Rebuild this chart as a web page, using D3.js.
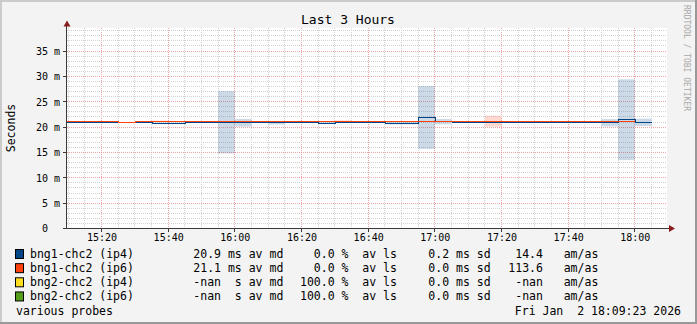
<!DOCTYPE html>
<html><head><meta charset="utf-8">
<script src="https://cdn.jsdelivr.net/npm/d3@7"></script>
<style>
html,body{margin:0;padding:0;background:#f3f3f3;}
svg{display:block;}
text{font-family:"DejaVu Sans Mono",monospace;white-space:pre;fill:#000;}
</style></head><body>
<svg id="c" width="697" height="324" xml:space="preserve"></svg>
<script>
// ---- data (ms), 5-minute buckets identified by their end time ----
const bucketEnds = ["15:10","15:15","15:20","15:25","15:30","15:35","15:40","15:45","15:50","15:55",
  "16:00","16:05","16:10","16:15","16:20","16:25","16:30","16:35","16:40","16:45",
  "16:50","16:55","17:00","17:05","17:10","17:15","17:20","17:25","17:30","17:35",
  "17:40","17:45","17:50","17:55","18:00","18:05"];
const ip4Median = [20.85,20.85,20.85,20.85,20.85,20.95,20.75,20.75,20.85,20.85,
  20.95,20.85,20.85,20.85,20.85,20.85,20.8,20.85,20.85,20.85,
  20.8,20.8,21.9,21.07,20.85,20.85,20.85,20.85,20.85,20.85,
  20.85,20.85,20.85,20.85,21.46,20.95];
const ip4Sd = [0,0,0,0,0,0,0.16,0.16,0,0,
  6.15,0.76,0,0.33,0,0,0.2,0,0,0,
  0.26,0.26,6.2,0.52,0,0,0,0,0,0,
  0,0,0,0.73,7.96,0.73];
const ip6Median = [21.1,21.1,21.1,21.1,20.9,21.1,21.2,21.1,21.1,21.1,
  21.1,21.1,21.1,21.1,21.1,21.1,21.1,21.2,21.1,21.1,
  21.1,21.1,21.1,21.1,21.1,21.1,21.16,21.1,21.1,21.1,
  21.1,21.1,21.1,21.1,21.1,null];
const ip6Sd = [0,0,0,0,0,0,0.1,0,0,0,
  0,0,0,0,0,0,0,0.14,0,0,
  0,0,0,0,0,0,1.08,0,0,0,
  0,0,0,0,0,0];
const yTicks = [0,5,10,15,20,25,30,35];
const xTickLabels = ["15:20","15:40","16:00","16:20","16:40","17:00","17:20","17:40","18:00"];
const legendNames = ["bng1-chc2 (ip4)","bng1-chc2 (ip6)","bng2-chc2 (ip4)","bng2-chc2 (ip6)"];
const legendColors = ["#004586","#ff420e","#ffde20","#579d1c"];
const legendMedian = ["20.9 ms","21.1 ms","-nan  s","-nan  s"];
const legendLoss = ["  0.0","  0.0","100.0","100.0"];
const legendSd = ["0.2","0.0","0.0","0.0"];
const legendAmas = [" 14.4","113.6"," -nan"," -nan"];
const titleText = "Last 3 Hours";
const yLabel = "Seconds";
const footLeft = "various probes";
const footRight = "Fri Jan  2 18:09:23 2026";
const watermark = "RRDTOOL / TOBI OETIKER";

// ---- setup ----
const W = 697, H = 324;
const svg = d3.select("#c");
const pT = d3.timeParse("%H:%M"), pTS = d3.timeParse("%H:%M:%S");
const x = d3.scaleTime().domain([pTS("15:09:30"), pTS("18:09:30")]).range([66.5, 666.5]);
const y = d3.scaleLinear().domain([0, 39.55]).range([228.5, 28]);
const px = v => Math.floor(v) + 0.5;

// background & frame
svg.append("rect").attr("width", W).attr("height", H).attr("fill", "#f3f3f3");
svg.append("path").attr("d", `M1,${H} L1,1 L${W},1`).attr("fill","none").attr("stroke","#cbcbcb").attr("stroke-width",2);
svg.append("path").attr("d", `M0,${H-1} L${W-1},${H-1} L${W-1},0`).attr("fill","none").attr("stroke","#999").attr("stroke-width",2);

// canvas
svg.append("rect").attr("x", 67).attr("y", 28).attr("width", 600).attr("height", 200).attr("fill", "#fff");

const grid = svg.append("g").attr("shape-rendering","crispEdges");
// minor vertical every 5 min
const minorT = d3.timeMinute.every(5).range(x.domain()[0], x.domain()[1]);
minorT.forEach(t => {
  const major = t.getMinutes() % 20 === 0;
  grid.append("line").attr("x1", px(x(t))).attr("x2", px(x(t))).attr("y1", 28).attr("y2", 228)
    .attr("stroke", major ? "#f2a3a3" : "#d2d2d2").attr("stroke-dasharray", "1,1");
});
// horizontal every 1 ms
d3.range(1, 40).forEach(v => {
  if (y(v) < 28) return;
  const major = v % 5 === 0;
  grid.append("line").attr("x1", 67).attr("x2", 667).attr("y1", px(y(v))).attr("y2", px(y(v)))
    .attr("stroke", major ? "#f2a3a3" : "#d2d2d2").attr("stroke-dasharray", "1,1");
});

// data
const plot = svg.append("g");
svg.append("clipPath").attr("id","clip").append("rect").attr("x",67).attr("y",28).attr("width",600).attr("height",201);
plot.attr("clip-path","url(#clip)");
const buckets = bucketEnds.map((e, i) => {
  const end = pT(e);
  return {start: d3.timeMinute.offset(end, -5), end, m4: ip4Median[i], s4: ip4Sd[i], m6: ip6Median[i], s6: ip6Sd[i]};
});
function smoke(key, sdKey, color) {
  plot.append("g").selectAll("rect").data(buckets.filter(b => b[key] != null && b[sdKey] > 0)).join("rect")
    .attr("x", b => x(b.start)).attr("width", b => x(b.end) - x(b.start))
    .attr("y", b => y(b[key] + b[sdKey])).attr("height", b => y(b[key] - b[sdKey]) - y(b[key] + b[sdKey]))
    .attr("fill", color).attr("fill-opacity", 0.2);
}
smoke("m4", "s4", "#004586");
smoke("m6", "s6", "#ff420e");
function medLine(key, color) {
  const pts = [];
  buckets.forEach(b => { pts.push({t: b.start, v: b[key]}); pts.push({t: b.end, v: b[key]}); });
  const line = d3.line().defined(d => d.v != null).x(d => Math.round(x(d.t)) ).y(d => px(y(d.v)));
  plot.append("path").attr("d", line(pts)).attr("fill","none").attr("stroke", color).attr("stroke-width", 1)
    .attr("shape-rendering","crispEdges");
}
medLine("m4", "#004586");
medLine("m6", "#ff420e");

// axes
const ax = svg.append("g").attr("shape-rendering","crispEdges");
ax.append("line").attr("x1", 66.5).attr("x2", 66.5).attr("y1", 229).attr("y2", 25).attr("stroke", "#3a3a3a");
ax.append("line").attr("x1", 63).attr("x2", 669).attr("y1", 228.5).attr("y2", 228.5).attr("stroke", "#3a3a3a");
yTicks.forEach(v => ax.append("line").attr("x1", 63).attr("x2", 66).attr("y1", px(y(v))).attr("y2", px(y(v))).attr("stroke","#3a3a3a"));
xTickLabels.forEach(s => ax.append("line").attr("x1", px(x(pT(s)))).attr("x2", px(x(pT(s)))).attr("y1", 229).attr("y2", 232).attr("stroke","#3a3a3a"));
svg.append("path").attr("d", "M67,20.5 L70.5,26.5 L63.5,26.5 Z").attr("fill", "#8a1c1c");
svg.append("path").attr("d", "M675,228.5 L669,225 L669,232 Z").attr("fill", "#8a1c1c");

// axis labels
const yl = svg.append("g").style("font-size", "10px");
yTicks.forEach(v => {
  yl.append("text").attr("x", 48).attr("y", y(v) + 3.8).attr("text-anchor", "end").text(String(v));
  if (v !== 0) yl.append("text").attr("x", 54).attr("y", y(v) + 3.8).text("m");
});
const xl = svg.append("g").style("font-size", "10px");
xTickLabels.forEach(s => xl.append("text").attr("x", x(pT(s)) + 0.5).attr("y", 241).attr("text-anchor", "middle").text(s));

// title etc.
svg.append("text").attr("x", 348).attr("y", 24).attr("text-anchor", "middle").style("font-size", "13px").text(titleText);
svg.append("text").attr("transform", "translate(15,128) rotate(-90)").attr("text-anchor", "middle").style("font-size", "11.5px").text(yLabel);
svg.append("text").attr("transform", "translate(684,5) rotate(90)").style("font-size", "8px").style("fill", "#a8a8a8").text(watermark);

// legend
const lg = svg.append("g").style("font-size", "11.5px");
legendNames.forEach((n, i) => {
  const by = 258 + i * 14.15;
  lg.append("rect").attr("x", 15.5).attr("y", by - 8.5).attr("width", 8).attr("height", 9).attr("fill", legendColors[i]).attr("stroke", "#000");
  lg.append("text").attr("x", 30).attr("y", by).text(n);
  lg.append("text").attr("x", 193.3).attr("y", by).text(legendMedian[i] + " av md");
  lg.append("text").attr("x", 300).attr("y", by).text(legendLoss[i] + " %  av ls");
  lg.append("text").attr("x", 428.3).attr("y", by).text(legendSd[i] + " ms sd");
  lg.append("text").attr("x", 508.3).attr("y", by).text(legendAmas[i] + "   am/as");
});
lg.append("text").attr("x", 16).attr("y", 258 + 4 * 14.15).text(footLeft);
lg.append("text").attr("x", 681).attr("y", 258 + 4 * 14.15).attr("text-anchor", "end").text(footRight);
</script></body></html>
